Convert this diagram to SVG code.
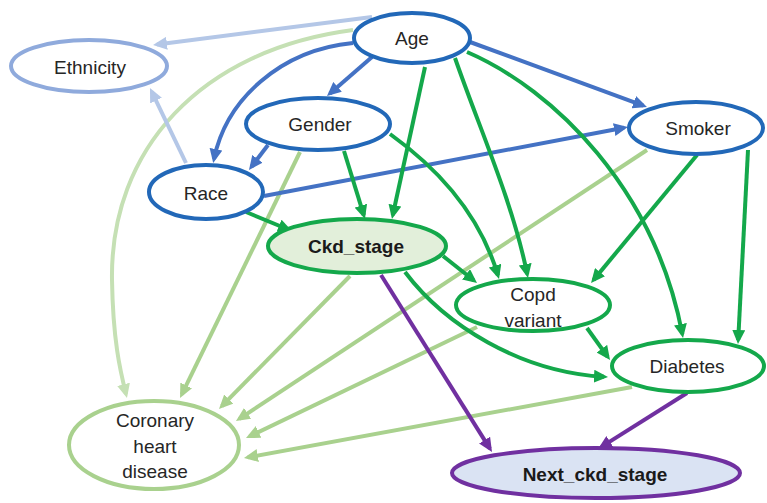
<svg xmlns="http://www.w3.org/2000/svg" width="767" height="503" viewBox="0 0 767 503">
<style>
.e{fill:none;stroke-width:4}
.b{stroke:#4472c4}
.lb{stroke:#b4c7e7}
.g{stroke:#14a84b}
.lg{stroke:#a9d18e}
.llg{stroke:#c5e0b4}
.p{stroke:#7030a0}
.n{stroke-width:4}
.t{font-family:"Liberation Sans",Arial,sans-serif;font-size:19px;fill:#262626;text-anchor:middle}
.tb{font-weight:bold;fill:#1a1a1a}
</style>
<defs>
<marker id="mb" markerUnits="userSpaceOnUse" markerWidth="14" markerHeight="13" refX="10" refY="6.5" orient="auto"><path d="M0,0 L14,6.5 L0,13 Z" fill="#4472c4"/></marker>
<marker id="mlb" markerUnits="userSpaceOnUse" markerWidth="14" markerHeight="13" refX="10" refY="6.5" orient="auto"><path d="M0,0 L14,6.5 L0,13 Z" fill="#b4c7e7"/></marker>
<marker id="mg" markerUnits="userSpaceOnUse" markerWidth="14" markerHeight="13" refX="10" refY="6.5" orient="auto"><path d="M0,0 L14,6.5 L0,13 Z" fill="#14a84b"/></marker>
<marker id="mlg" markerUnits="userSpaceOnUse" markerWidth="14" markerHeight="13" refX="10" refY="6.5" orient="auto"><path d="M0,0 L14,6.5 L0,13 Z" fill="#a9d18e"/></marker>
<marker id="mllg" markerUnits="userSpaceOnUse" markerWidth="14" markerHeight="13" refX="10" refY="6.5" orient="auto"><path d="M0,0 L14,6.5 L0,13 Z" fill="#c5e0b4"/></marker>
<marker id="mp" markerUnits="userSpaceOnUse" markerWidth="14" markerHeight="13" refX="10" refY="6.5" orient="auto"><path d="M0,0 L14,6.5 L0,13 Z" fill="#7030a0"/></marker>
</defs>
<g id="connectors">
<path class="e llg" d="M353,30 C200,50 110,150 112,280 C113,340 120,370 126,394" marker-end="url(#mllg)"/>
<path class="e lg" d="M300,152 L181.8,394.4" marker-end="url(#mlg)"/>
<path class="e lg" d="M350,276 L221.8,406.2" marker-end="url(#mlg)"/>
<path class="e lg" d="M647,150 L239.3,418.8" marker-end="url(#mlg)"/>
<path class="e lg" d="M477,327 L249.6,436.3" marker-end="url(#mlg)"/>
<path class="e lg" d="M632,387 L247.9,457.3" marker-end="url(#mlg)"/>
<path class="e lb" d="M372,17 L157,44.5" marker-end="url(#mlb)"/>
<path class="e lb" d="M186,163 L151.7,91.6" marker-end="url(#mlb)"/>
<path class="e b" d="M372,57 L330,93.4" marker-end="url(#mb)"/>
<path class="e b" d="M353,43 C280,50 226,100 214,159" marker-end="url(#mb)"/>
<path class="e b" d="M268,145 L251.4,166.8" marker-end="url(#mb)"/>
<path class="e b" d="M470,42 L643.2,105.6" marker-end="url(#mb)"/>
<path class="e b" d="M264,196 L624,127.7" marker-end="url(#mb)"/>
<path class="e g" d="M425,67 L392.8,215" marker-end="url(#mg)"/>
<path class="e g" d="M344,151 L363.8,215.2" marker-end="url(#mg)"/>
<path class="e g" d="M246,212 L288.3,229.5" marker-end="url(#mg)"/>
<path class="e g" d="M390,134 C440,170 480,215 497.9,275.2" marker-end="url(#mg)"/>
<path class="e g" d="M455,58 C480,130 512,200 527.2,274" marker-end="url(#mg)"/>
<path class="e g" d="M467,52 C555,90 655,190 682.3,334" marker-end="url(#mg)"/>
<path class="e g" d="M697,155 L593.6,279.9" marker-end="url(#mg)"/>
<path class="e g" d="M748,150 L738.2,340" marker-end="url(#mg)"/>
<path class="e g" d="M443,256 L473.9,280.5" marker-end="url(#mg)"/>
<path class="e g" d="M405,272 C445,325 520,372 604,376.8" marker-end="url(#mg)"/>
<path class="e g" d="M587,328 L607.7,356.8" marker-end="url(#mg)"/>
<path class="e p" d="M381,275 L489.9,448.6" marker-end="url(#mp)"/>
<path class="e p" d="M687,393 L601.4,446.9" marker-end="url(#mp)"/>
</g>
<g id="age"><ellipse class="n" cx="412" cy="38" rx="58" ry="25" fill="#fff" stroke="#2268b8"/><text class="t" x="412" y="45">Age</text></g>
<g id="ethnicity"><ellipse class="n" cx="89" cy="66" rx="78" ry="26" fill="#fff" stroke="#8faadc"/><text class="t" x="90" y="74">Ethnicity</text></g>
<g id="gender"><ellipse class="n" cx="318" cy="124" rx="72" ry="26" fill="#fff" stroke="#2268b8"/><text class="t" x="320" y="131">Gender</text></g>
<g id="race"><ellipse class="n" cx="206" cy="192" rx="57" ry="27" fill="#fff" stroke="#2268b8"/><text class="t" x="206" y="200">Race</text></g>
<g id="smoker"><ellipse class="n" cx="696" cy="128" rx="67" ry="26" fill="#fff" stroke="#2268b8"/><text class="t" x="698" y="135">Smoker</text></g>
<g id="ckd_stage"><ellipse class="n" cx="357" cy="246" rx="89" ry="27" fill="#e2efda" stroke="#14a84b"/><text class="t tb" x="356" y="253">Ckd_stage</text></g>
<g id="copd"><ellipse class="n" cx="533" cy="305" rx="77" ry="26" fill="#fff" stroke="#14a84b"/><text class="t" x="533" y="301">Copd</text><text class="t" x="533" y="327">variant</text></g>
<g id="diabetes"><ellipse class="n" cx="688" cy="366" rx="76" ry="26" fill="#fff" stroke="#14a84b"/><text class="t" x="687" y="373">Diabetes</text></g>
<g id="next_ckd_stage"><ellipse class="n" cx="596" cy="473" rx="144" ry="25" fill="#dae3f3" stroke="#7030a0"/><text class="t tb" x="595" y="481">Next_ckd_stage</text></g>
<g id="coronary"><ellipse class="n" cx="154" cy="445" rx="85" ry="44" fill="#fff" stroke="#a9d18e"/><text class="t" x="155" y="427">Coronary</text><text class="t" x="155" y="453">heart</text><text class="t" x="155" y="478">disease</text></g>
</svg>
